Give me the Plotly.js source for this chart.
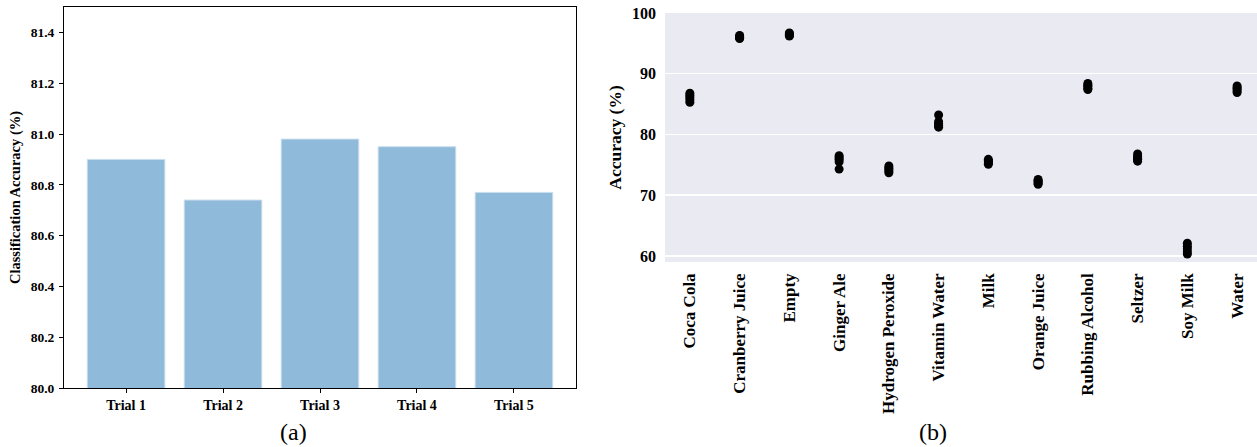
<!DOCTYPE html>
<html>
<head>
<meta charset="utf-8">
<script src="https://cdn.plot.ly/plotly-3.0.1.min.js"></script>
<style>html,body{margin:0;padding:0;background:#fff;}#chart{width:1257px;height:447px;}</style>
</head>
<body>
<div id="chart"></div>
<script>
// ---- Data ----
const trials = ['Trial 1', 'Trial 2', 'Trial 3', 'Trial 4', 'Trial 5'];
const trialAccuracy = [80.90, 80.74, 80.98, 80.95, 80.77];
const leftYTicks = [80.0, 80.2, 80.4, 80.6, 80.8, 81.0, 81.2, 81.4];

const liquids = ['Coca Cola', 'Cranberry Juice', 'Empty', 'Ginger Ale', 'Hydrogen Peroxide',
  'Vitamin Water', 'Milk', 'Orange Juice', 'Rubbing Alcohol', 'Seltzer', 'Soy Milk', 'Water'];
const accTrial1 = [85.3, 95.8, 96.2, 74.3, 73.7, 81.2, 75.1, 71.8, 87.4, 75.6, 60.3, 86.9];
const accTrial2 = [85.7, 95.9, 96.3, 75.5, 74.0, 81.5, 75.3, 72.0, 87.6, 75.9, 60.7, 87.2];
const accTrial3 = [86.1, 96.0, 96.4, 75.9, 74.3, 81.8, 75.5, 72.2, 87.9, 76.1, 61.2, 87.5];
const accTrial4 = [86.4, 96.2, 96.6, 76.2, 74.5, 82.1, 75.7, 72.4, 88.1, 76.4, 61.6, 87.7];
const accTrial5 = [86.8, 96.3, 96.7, 76.5, 74.8, 83.2, 75.9, 72.6, 88.4, 76.8, 62.1, 88.0];
const rightYTicks = [60, 70, 80, 90, 100];

// ---- Build ----
const W = 1257, H = 447;
const serif = 'Liberation Serif, Times New Roman, serif';
const boldFont = (s) => ({family: serif, size: s, color: '#000', weight: 'bold'});

const traces = [{
  type: 'bar', x: trials, y: trialAccuracy, width: 0.8,
  marker: {color: '#8fbad9', line: {color: '#c9deee', width: 1}},
  xaxis: 'x', yaxis: 'y', hoverinfo: 'x+y'
}];
const perTrial = [accTrial1, accTrial2, accTrial3, accTrial4, accTrial5];
perTrial.forEach((vals, i) => {
  traces.push({
    type: 'scatter', mode: 'markers', x: liquids, y: vals,
    marker: {color: '#000', size: 9},
    xaxis: 'x2', yaxis: 'y2', name: trials[i], showlegend: false
  });
});

const layout = {
  width: W, height: H,
  margin: {l: 0, r: 0, t: 0, b: 0, pad: 0},
  paper_bgcolor: '#fff', plot_bgcolor: '#fff',
  showlegend: false, bargap: 0.2,
  font: {family: serif, color: '#000'},
  xaxis: {
    domain: [64 / W, 576 / W], anchor: 'y',
    range: [-0.64, 4.64], type: 'category',
    showline: true, linecolor: '#000', linewidth: 1, mirror: true,
    ticks: 'outside', ticklen: 4, tickwidth: 1, tickcolor: '#000',
    showgrid: false, zeroline: false, automargin: false,
    tickfont: boldFont(14), ticklabelstandoff: 0
  },
  yaxis: {
    domain: [1 - 388 / H, 1 - 7 / H], anchor: 'x',
    range: [80, 81.5], tickvals: leftYTicks, tickformat: '.1f',
    showline: true, linecolor: '#000', linewidth: 1, mirror: true,
    ticks: 'outside', ticklen: 4, tickwidth: 1, tickcolor: '#000',
    showgrid: false, zeroline: false, automargin: false,
    tickfont: boldFont(13.5), ticklabelstandoff: 2,
    title: {text: 'Classification Accuracy (%)', font: boldFont(14.5), standoff: 6}
  },
  xaxis2: {
    domain: [665 / W, 1], anchor: 'y2',
    range: [-0.5, 11.4], type: 'category',
    showline: false, ticks: '', showgrid: false, zeroline: false, automargin: false,
    tickangle: -90, tickfont: boldFont(17), ticklabelstandoff: 7
  },
  yaxis2: {
    domain: [1 - 262 / H, 1 - 13 / H], anchor: 'x2',
    range: [59, 100], tickvals: rightYTicks,
    showline: false, ticks: '', zeroline: false, automargin: false,
    showgrid: true, gridcolor: '#ffffff', gridwidth: 1.5,
    tickfont: boldFont(16), ticklabelstandoff: 8,
    title: {text: 'Accuracy (%)', font: boldFont(17.5), standoff: 5}
  },
  shapes: [{
    type: 'rect', xref: 'x2 domain', yref: 'y2 domain', x0: 0, x1: 1, y0: 0, y1: 1,
    fillcolor: '#eaeaf2', line: {width: 0}, layer: 'below'
  }],
  annotations: [
    {text: '(a)', xref: 'paper', yref: 'paper', x: 293 / W, y: 1 - 432 / H,
     showarrow: false, font: {family: serif, size: 24, color: '#000'}, xanchor: 'center', yanchor: 'middle'},
    {text: '(b)', xref: 'paper', yref: 'paper', x: 933 / W, y: 1 - 432 / H,
     showarrow: false, font: {family: serif, size: 24, color: '#000'}, xanchor: 'center', yanchor: 'middle'}
  ]
};

Plotly.newPlot('chart', traces, layout, {staticPlot: true, displayModeBar: false});
</script>
</body>
</html>
